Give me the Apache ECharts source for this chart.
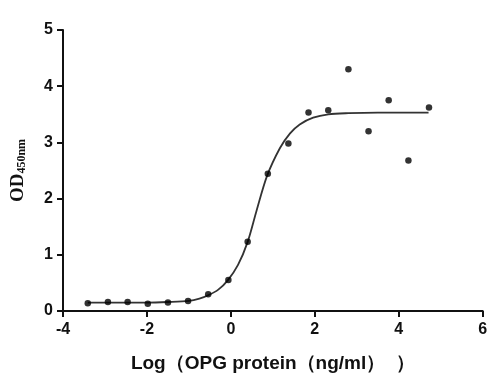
<!DOCTYPE html>
<html>
<head>
<meta charset="utf-8">
<script src="https://cdn.jsdelivr.net/npm/echarts@6/dist/echarts.min.js"></script>
<style>
html,body{margin:0;padding:0;background:#fff;}
#chart{width:500px;height:391px;}
</style>
</head>
<body>
<div id="chart"></div>
<script>
// Measured points (log concentration vs OD450)
const pointX = [-3.41,-2.93,-2.46,-1.98,-1.50,-1.02,-0.54,-0.06,0.40,0.88,1.37,1.85,2.32,2.80,3.28,3.76,4.23,4.72];
const pointY = [0.14,0.16,0.16,0.13,0.15,0.18,0.30,0.55,1.23,2.44,2.98,3.53,3.57,4.30,3.20,3.75,2.68,3.62];

// Fitted curve
const curveX = [-3.41,-2.5,-2.0,-1.5,-1.0,-0.75,-0.54,-0.30,-0.07,0.17,0.40,0.61,0.86,1.17,1.41,1.64,1.96,2.32,2.8,3.5,4.71];
const curveY = [0.15,0.15,0.15,0.16,0.18,0.22,0.28,0.38,0.55,0.82,1.23,1.78,2.40,2.90,3.16,3.32,3.44,3.50,3.52,3.53,3.53];

const xTicks = [-4,-2,0,2,4,6];
const yTicks = [0,1,2,3,4,5];

const xTitle = 'Log（OPG protein（ng/ml）  ）';

const chart = echarts.init(document.getElementById('chart'));
const labelFont = {fontFamily:'Liberation Sans, Arial, sans-serif', fontWeight:'bold', fontSize:16, color:'#111'};
chart.setOption({
  animation:false,
  backgroundColor:'#fff',
  grid:{left:63, right:17.3, top:30, bottom:80},
  xAxis:{
    type:'value', min:xTicks[0], max:xTicks[xTicks.length-1], interval:2,
    axisLine:{show:true, onZero:false, lineStyle:{color:'#111', width:2}},
    axisTick:{show:true, length:6, lineStyle:{color:'#111', width:2}},
    splitLine:{show:false},
    axisLabel:Object.assign({margin:11}, labelFont),
    name:xTitle, nameLocation:'middle', nameGap:43,
    nameTextStyle:{fontFamily:'Liberation Sans, Arial, sans-serif', fontWeight:'bold', fontSize:19, color:'#111'}
  },
  yAxis:{
    type:'value', min:yTicks[0], max:yTicks[yTicks.length-1], interval:1,
    axisLine:{show:true, onZero:false, lineStyle:{color:'#111', width:2}},
    axisTick:{show:true, length:6, lineStyle:{color:'#111', width:2}},
    splitLine:{show:false},
    axisLabel:Object.assign({margin:10}, labelFont),
    name:'{a|OD}{b|450nm}', nameLocation:'middle', nameGap:35,
    nameTextStyle:{
      rich:{
        a:{fontFamily:'Liberation Serif, Times New Roman, serif', fontWeight:'bold', fontSize:19, color:'#111'},
        b:{fontFamily:'Liberation Serif, Times New Roman, serif', fontWeight:'bold', fontSize:12, color:'#111', verticalAlign:'bottom', padding:[6,0,0,0]}
      }
    }
  },
  series:[
    {
      type:'line', data:curveX.map((x,i)=>[x,curveY[i]]),
      smooth:0.3, showSymbol:false, symbol:'none',
      lineStyle:{color:'#333', width:1.8}, z:2
    },
    {
      type:'scatter', data:pointX.map((x,i)=>[x,pointY[i]]),
      symbol:'circle', symbolSize:6.5, itemStyle:{color:'#000'}, z:3
    }
  ]
});
</script>
</body>
</html>
